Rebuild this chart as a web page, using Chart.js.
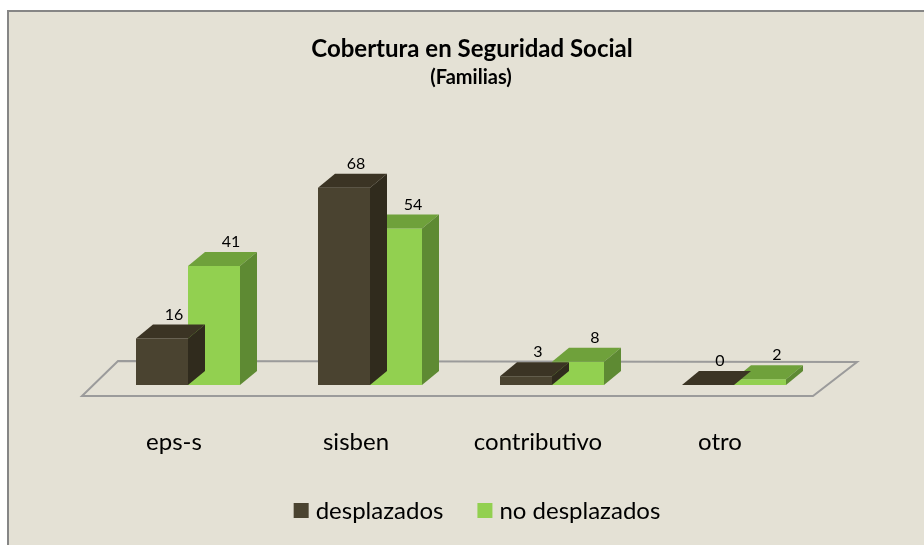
<!DOCTYPE html>
<html>
<head>
<meta charset="utf-8">
<script src="https://cdn.jsdelivr.net/npm/chart.js@4.4.1/dist/chart.umd.min.js"></script>
<style>
  html, body { margin: 0; padding: 0; background: #fff; }
  canvas { display: block; }
</style>
</head>
<body>
<canvas id="coberturaChart" width="924" height="545"></canvas>
<script>
// datos
const categories = ['eps-s', 'sisben', 'contributivo', 'otro'];
const desplazados = [16, 68, 3, 0];
const noDesplazados = [41, 54, 8, 2];
const seriesNames = ['desplazados', 'no desplazados'];
const yMax = 80;

// colores: frente, tapa, lado
const darkColors = { front: '#4a4330', top: '#3b3424', side: '#302b1d' };
const greenColors = { front: '#92d050', top: '#6fa13b', side: '#5e8a33' };
const faceColors = [darkColors, greenColors];

const depthX = 17;
const depthY = 14;
const fontFamily = 'Lato, "Open Sans", sans-serif';

// fondo y marco del area del grafico
const backgroundPlugin = {
    id: 'fondo',
    beforeDraw(chart) {
        const ctx = chart.ctx;
        ctx.save();
        ctx.fillStyle = '#ffffff';
        ctx.fillRect(0, 0, chart.width, chart.height);
        ctx.fillStyle = '#e4e1d5';
        ctx.fillRect(7, 10, chart.width - 7, chart.height - 10);
        ctx.strokeStyle = '#868686';
        ctx.lineWidth = 2;
        ctx.beginPath();
        ctx.moveTo(8, chart.height);
        ctx.lineTo(8, 11);
        ctx.lineTo(chart.width, 11);
        ctx.stroke();
        ctx.restore();
    }
};

// piso en perspectiva debajo de las barras
const floorPlugin = {
    id: 'piso',
    beforeDatasetsDraw(chart) {
        const ctx = chart.ctx;
        const area = chart.chartArea;
        const base = chart.scales.y.getPixelForValue(0);
        ctx.save();
        ctx.strokeStyle = '#9b9b9b';
        ctx.lineWidth = 2;
        ctx.beginPath();
        ctx.moveTo(area.left - 15, base + 11);
        ctx.lineTo(area.right - 12, base + 11);
        ctx.lineTo(area.right + 32, base - 23);
        ctx.lineTo(area.left + 21, base - 24);
        ctx.closePath();
        ctx.stroke();
        ctx.restore();
    }
};

// tapa y lado de cada barra (efecto 3D)
const boxPlugin = {
    id: 'caja3d',
    afterDatasetDraw(chart, args) {
        const ctx = chart.ctx;
        const colors = faceColors[args.index];
        ctx.save();
        args.meta.data.forEach(function(bar) {
            const p = bar.getProps(['x', 'y', 'base', 'width'], true);
            const l = p.x - p.width / 2;
            const r = p.x + p.width / 2;

            ctx.fillStyle = colors.top;
            ctx.beginPath();
            ctx.moveTo(l, p.y);
            ctx.lineTo(r, p.y);
            ctx.lineTo(r + depthX, p.y - depthY);
            ctx.lineTo(l + depthX, p.y - depthY);
            ctx.closePath();
            ctx.fill();

            ctx.fillStyle = colors.side;
            ctx.beginPath();
            ctx.moveTo(r, p.y);
            ctx.lineTo(r, p.base);
            ctx.lineTo(r + depthX, p.base - depthY);
            ctx.lineTo(r + depthX, p.y - depthY);
            ctx.closePath();
            ctx.fill();
        });
        ctx.restore();
    }
};

// titulo, etiquetas de datos, categorias y leyenda
const textPlugin = {
    id: 'textos',
    afterDraw(chart) {
        const ctx = chart.ctx;
        const xScale = chart.scales.x;
        ctx.save();
        ctx.fillStyle = '#000000';
        ctx.textAlign = 'center';
        ctx.textBaseline = 'middle';

        ctx.font = 'bold 24px ' + fontFamily;
        ctx.fillText('Cobertura en Seguridad Social', 472, 49);
        ctx.font = 'bold 20px ' + fontFamily;
        ctx.fillText('(Familias)', 471, 78);

        // valores encima de cada barra
        ctx.font = '16px ' + fontFamily;
        chart.data.datasets.forEach(function(ds, i) {
            const shift = i === 0 ? 12 : 17;
            chart.getDatasetMeta(i).data.forEach(function(bar, j) {
                const p = bar.getProps(['x', 'y'], true);
                ctx.fillText(String(ds.data[j]), p.x + shift, p.y - depthY - 10);
            });
        });

        // nombres de categoria
        ctx.font = '24px ' + fontFamily;
        categories.forEach(function(cat, i) {
            ctx.fillText(cat, xScale.getPixelForTick(i) - 14, 442);
        });

        // leyenda
        const box = 15, gap = 7, spacing = 34;
        const widths = seriesNames.map(n => ctx.measureText(n).width);
        const total = widths.reduce((a, w) => a + box + gap + w, 0) + spacing;
        let lx = 477 - total / 2;
        ctx.textAlign = 'left';
        seriesNames.forEach(function(name, i) {
            ctx.fillStyle = faceColors[i].front;
            ctx.fillRect(lx, 503, box, box);
            ctx.fillStyle = '#000000';
            ctx.fillText(name, lx + box + gap, 511);
            lx += box + gap + widths[i] + spacing;
        });
        ctx.restore();
    }
};

new Chart(document.getElementById('coberturaChart'), {
    type: 'bar',
    data: {
        labels: categories,
        datasets: [{
            label: seriesNames[0],
            data: desplazados,
            backgroundColor: darkColors.front,
            borderWidth: 0
        }, {
            label: seriesNames[1],
            data: noDesplazados,
            backgroundColor: greenColors.front,
            borderWidth: 0
        }]
    },
    options: {
        responsive: false,
        animation: false,
        devicePixelRatio: 1,
        layout: { padding: { left: 97, right: 99, top: 153, bottom: 160 } },
        datasets: {
            bar: { categoryPercentage: 104 / 182, barPercentage: 1.0 }
        },
        plugins: {
            legend: { display: false },
            title: { display: false },
            tooltip: { enabled: false }
        },
        scales: {
            x: { display: false },
            y: { display: false, min: 0, max: yMax }
        }
    },
    plugins: [backgroundPlugin, floorPlugin, boxPlugin, textPlugin]
});
</script>
</body>
</html>
